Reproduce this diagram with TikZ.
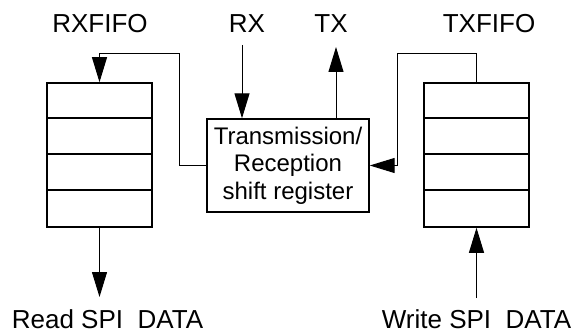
\documentclass[tikz,border=0pt]{standalone}
\usepackage{fontspec}
\setmainfont{Liberation Sans}
\usetikzlibrary{arrows.meta}

\begin{document}
\begin{tikzpicture}[x=1pt,y=-1pt,
        fifo/.style={draw,line width=1.6pt,minimum width=105pt,minimum height=144pt,inner sep=0pt},
        regbox/.style={draw,line width=1.4pt,minimum width=162pt,minimum height=93pt,inner sep=0pt,
            align=center,font=\fontsize{24}{27.5}\selectfont},
        lbl/.style={anchor=base,inner sep=0pt,font=\fontsize{26}{30}\selectfont},
        flow/.style={line width=1pt,-{Triangle[length=25pt,width=15pt]}}]
    \useasboundingbox (0,0) rectangle (579,334);
    % the two fifos
    \node[fifo] (rxfifo) at (99.5,155) {};
    \node[fifo] (txfifo) at (476.5,155) {};
    \foreach \f in {rxfifo,txfifo}
        \foreach \k in {1,2,3}
            \draw[line width=1.6pt] ([yshift=-\k*36pt]\f.north west) -- ([yshift=-\k*36pt]\f.north east);
    \node[regbox] (shiftreg) at (288,165.5) {Transmission/\\Reception\\shift register};
    % labels
    \node[lbl] (rxname) at (100,33) {RXFIFO};
    \node[lbl] (rxin) at (247,33) {RX};
    \node[lbl] (txout) at (331,33) {TX};
    \node[lbl] (txname) at (489,33) {TXFIFO};
    \node[lbl] (readout) at (107.5,328.5) {Read SPI~\ DATA};
    \node[lbl] (writein) at (476.5,328.5) {Write SPI~\ DATA};
    % connectors
    \coordinate (rxtail) at (242,45);
    \coordinate (txtip) at (336,47);
    \coordinate (rxbend) at (179,54);
    \coordinate (txbend) at (397,54);
    \coordinate (readtip) at (99.5,297);
    \coordinate (writetail) at (476.5,298);
    \draw[flow] (rxtail) -- (rxtail |- shiftreg.north);
    \draw[flow] (txtip |- shiftreg.north) -- (txtip);
    \draw[flow] (shiftreg.west) -| (rxbend) -| (rxfifo.north);
    \draw[flow] (txfifo.north) |- (txbend) |- (shiftreg.east);
    \draw[flow] (rxfifo.south) -- (readtip);
    \draw[flow] (writetail) -- (txfifo.south);
\end{tikzpicture}
\end{document}
